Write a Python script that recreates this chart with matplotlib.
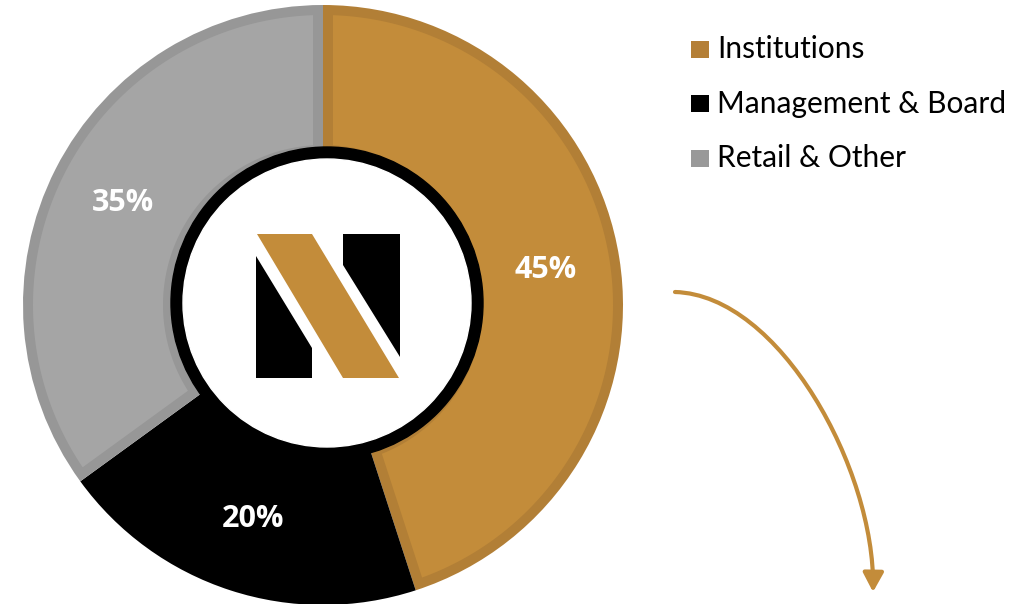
import numpy as np
import matplotlib as mpl
import matplotlib.pyplot as plt
from matplotlib.patches import Circle, Polygon, Rectangle, FancyArrowPatch
from matplotlib.path import Path

mpl.rcParams['font.family'] = ['Lato', 'DejaVu Sans']

# shareholder split
categories = ['Institutions', 'Management & Board', 'Retail & Other']
shares = [45, 20, 35]
fills = ['#C38C3A', '#000000', '#A5A5A5']
edges = ['#B27F36', '#000000', '#979797']
legend_colors = ['#B47F36', '#000000', '#999999']

W, H = 1030, 604


def py(y):
    # pixel row -> data y
    return H - y


def inset_wedge(w, d):
    # polygon of the wedge shrunk by d on every side
    cx, cy = w.center
    r_out = w.r - d
    r_in = w.r - w.width + d
    t1, t2 = np.radians(w.theta1), np.radians(w.theta2)
    a_out = np.arcsin(d / r_out)
    a_in = np.arcsin(d / r_in)
    to = np.linspace(t1 + a_out, t2 - a_out, 200)
    ti = np.linspace(t2 - a_in, t1 + a_in, 200)
    xs = np.concatenate([cx + r_out * np.cos(to), cx + r_in * np.cos(ti)])
    ys = np.concatenate([cy + r_out * np.sin(to), cy + r_in * np.sin(ti)])
    return np.column_stack([xs, ys])


fig = plt.figure(figsize=(W / 100, H / 100), dpi=100)
ax = fig.add_axes([0, 0, 1, 1])

# full wedges in the darker border colour, lighter inset on top
wedges, texts, autotexts = ax.pie(
    shares, colors=edges, startangle=90, counterclock=False,
    radius=300, center=(323, py(305)),
    autopct=lambda p: '{:.0f}%'.format(p), pctdistance=0.75,
    wedgeprops=dict(width=150, linewidth=0),
    textprops=dict(color='white', fontsize=22, fontweight='bold',
                   family=['Open Sans', 'DejaVu Sans'], zorder=6))
for w, fc in zip(wedges, fills):
    ax.add_patch(Polygon(inset_wedge(w, 10), closed=True, color=fc, lw=0,
                         zorder=w.get_zorder() + 0.1))

# centre badge
ax.add_patch(Circle((327, py(303)), 156, color='black', zorder=3))
ax.add_patch(Circle((327, py(303)), 144, color='white', zorder=4))
logo_black = [
    [(256, 256), (312, 348), (312, 378), (256, 378)],
    [(343, 234), (400, 234), (400, 357), (343, 265)],
]
for pts in logo_black:
    ax.add_patch(Polygon([(x, py(y)) for x, y in pts], closed=True,
                         color='black', lw=0, zorder=5))
gold_bar = [(257, 234), (312, 234), (399, 378), (343, 378)]
ax.add_patch(Polygon([(x, py(y)) for x, y in gold_bar], closed=True,
                     color='#C38C3A', lw=0, zorder=5))

# legend
for i, (name, c) in enumerate(zip(categories, legend_colors)):
    yc = 49.5 + i * 54.3
    ax.add_patch(Rectangle((691, py(yc + 8.5)), 18, 17, color=c, lw=0))
    ax.text(717, py(yc), name, fontsize=21.5, va='center', ha='left', color='black')

# curved arrow
verts = [(675, py(292)), (780, py(295)), (875, py(470)), (873, py(592))]
codes = [Path.MOVETO, Path.CURVE4, Path.CURVE4, Path.CURVE4]
arrow = FancyArrowPatch(path=Path(verts, codes),
                        arrowstyle='-|>,head_length=1.15,head_width=0.62',
                        mutation_scale=10, color='#C38C3A', lw=3)
ax.add_patch(arrow)

ax.set_xlim(0, W)
ax.set_ylim(0, H)
ax.set_aspect('equal')
ax.axis('off')

fig.savefig('out.png', dpi=100, facecolor='white')
